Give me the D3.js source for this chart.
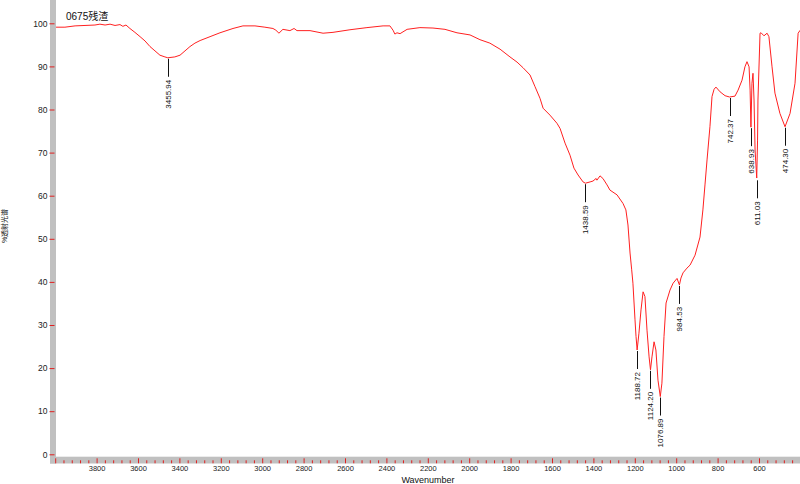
<!DOCTYPE html>
<html>
<head>
<meta charset="utf-8">
<script src="https://cdn.jsdelivr.net/npm/d3@7"></script>
<style>
  html, body { margin: 0; padding: 0; background: #fff; }
  svg { display: block; }
  text { font-family: "Liberation Sans", "Noto Sans CJK SC", sans-serif; }
</style>
</head>
<body>
<svg id="chart" width="800" height="484"></svg>
<script>
// ---- data ----
const title = "0675残渣";
const xTitle = "Wavenumber";
const yTitle = "%透射光谱";

const wavenumber = [3996,3953,3904,3856,3808,3784,3759,3735,3711,3687,3673,3658,3639,3615,3590,3566,3542,3518,3494,3470,3456,3422,3397,3373,3349,3325,3300,3252,3204,3141,3093,3035,2987,2948,2934,2919,2900,2866,2846,2832,2769,2706,2658,2576,2494,2416,2383,2368,2359,2349,2334,2300,2238,2175,2117,2059,1996,1948,1900,1851,1803,1769,1740,1706,1682,1658,1643,1610,1576,1561,1537,1513,1494,1474,1450,1438.6,1416,1402,1387,1383,1368,1354,1334,1320,1286,1257,1243,1233,1223,1215,1209,1199,1194,1188.7,1180,1170,1160,1151,1141,1131,1124.2,1117,1107,1098,1088,1076.9,1069,1059,1049,1030,1015,996,984.5,977,967,948,933,909,885,871,861,851,837,827,817,808,788,764,742.4,716,701,682,668,658,648,643,638.9,634,629,624,619,611.0,607,605,595,590,576,561,552,537,523,499,474.3,450,426,411,401];
const transmittance = [99.1,99.1,99.4,99.5,99.6,99.8,99.6,99.8,99.5,99.7,99.3,99.6,98.8,97.9,96.9,95.9,94.6,93.6,92.6,92.2,92.0,92.2,92.6,93.6,94.6,95.4,96.0,96.9,97.8,98.8,99.4,99.4,99.1,98.8,98.4,97.7,98.6,98.3,98.8,98.3,98.3,97.7,97.9,98.5,99.0,99.4,99.4,98.4,97.5,97.8,97.6,98.6,99.0,98.9,98.6,97.8,97.3,96.2,95.4,94.0,92.2,91.0,89.7,88.0,85.3,82.6,80.3,78.7,76.8,75.6,72.2,69.4,66.4,64.8,63.2,62.9,63.2,63.4,64.0,63.6,64.6,64.0,62.5,61.3,60.2,58.2,56.7,53.2,46.7,42.8,39.7,31.2,27.3,24.2,28.1,33.5,37.7,36.6,28.8,22.6,19.6,22.6,26.1,24.2,17.2,13.4,16.5,27.3,35.1,38.1,39.7,40.8,39.3,40.9,42.1,43.2,43.9,46.2,50.4,56.7,62.5,68.3,76.0,83.0,84.7,85.2,84.1,83.2,82.9,83.1,84.5,86.8,89.9,91.1,89.9,84.5,75.9,86.1,88.4,82.2,70.6,64.1,72.9,82.2,97.7,97.8,97.1,97.7,96.9,89.9,83.8,79.1,76.0,79.1,86.1,97.7,98.4];

const peakPositions = [3455.94, 1438.59, 1188.72, 1124.20, 1076.89, 984.53, 742.37, 638.93, 611.03, 474.30];
const peakValues = [92.0, 62.9, 24.2, 19.6, 13.4, 39.3, 82.9, 75.9, 63.8, 76.0];
const peakLabels = ["3455.94", "1438.59", "1188.72", "1124.20", "1076.89", "984.53", "742.37", "638.93", "611.03", "474.30"];

const yTickValues = [0, 10, 20, 30, 40, 50, 60, 70, 80, 90, 100];
const xMajorTicks = [3800, 3600, 3400, 3200, 3000, 2800, 2600, 2400, 2200, 2000, 1800, 1600, 1400, 1200, 1000, 800, 600];

// ---- drawing ----
const svg = d3.select("#chart");
const x = d3.scaleLinear().domain([4000, 400]).range([55.2, 800.4]);
const y = d3.scaleLinear().domain([0, 100]).range([454.3, 23.3]);

svg.append("rect").attr("width", 800).attr("height", 484).attr("fill", "#fff");

// curve
const data = wavenumber.map((w, i) => ({ w, t: transmittance[i] }));
svg.append("path")
  .datum(data)
  .attr("fill", "none")
  .attr("stroke", "#ff2020")
  .attr("stroke-width", 1)
  .attr("d", d3.line().x(d => x(d.w)).y(d => y(d.t)));

// gray frame bars
svg.append("rect").attr("x", 50).attr("y", 0).attr("width", 6).attr("height", 463.5).attr("fill", "#c0c0c0");
svg.append("rect").attr("x", 50).attr("y", 456.7).attr("width", 750).attr("height", 6.8).attr("fill", "#c0c0c0");

// y axis
const yAxis = svg.append("g")
  .attr("transform", "translate(54.5,0)")
  .call(d3.axisLeft(y).tickValues(yTickValues).tickSize(5).tickPadding(2).tickFormat(d3.format("d")));
yAxis.select(".domain").remove();
yAxis.selectAll(".tick line").attr("stroke", "#e02020");
yAxis.selectAll(".tick text").attr("font-size", 8.5).attr("fill", "#222")
  .attr("font-family", "Liberation Sans, sans-serif");

// x axis minor ticks
const minorVals = d3.range(400, 4001, 40).filter(v => v % 200 !== 0);
const xMinor = svg.append("g")
  .attr("transform", "translate(0,463.3)")
  .call(d3.axisBottom(x).tickValues(minorVals).tickSize(-3).tickFormat(""));
xMinor.select(".domain").remove();
xMinor.selectAll(".tick line").attr("stroke", "#e02020");

const xMajor = svg.append("g")
  .attr("transform", "translate(0,463.3)")
  .call(d3.axisBottom(x).tickValues(d3.range(400, 4001, 200)).tickSize(-5).tickPadding(2.4)
    .tickFormat(d => xMajorTicks.includes(d) ? d : ""));
xMajor.select(".domain").remove();
xMajor.selectAll(".tick line").attr("stroke", "#e02020");
xMajor.selectAll(".tick text").attr("font-size", 7.5).attr("fill", "#222")
  .attr("font-family", "Liberation Sans, sans-serif");

// peak annotations
peakPositions.forEach((p, i) => {
  const px = Math.round(x(p)) + 0.5;
  const py = y(peakValues[i]);
  svg.append("line")
    .attr("x1", px).attr("x2", px)
    .attr("y1", py + 1).attr("y2", py + 19)
    .attr("stroke", "#111").attr("stroke-width", 1);
  svg.append("text")
    .attr("transform", `translate(${px},${py + 22}) rotate(-90)`)
    .attr("text-anchor", "end")
    .attr("dy", "0.35em")
    .attr("font-size", 8)
    .attr("fill", "#111")
    .text(peakLabels[i]);
});

// titles
svg.append("text").attr("x", 66).attr("y", 19.6).attr("font-size", 10).attr("fill", "#111").text(title);
svg.append("text").attr("x", 428).attr("y", 482.5).attr("text-anchor", "middle")
  .attr("font-size", 9).attr("font-family", "Liberation Serif, serif").attr("fill", "#111").text(xTitle);
svg.append("text")
  .attr("transform", "translate(5,226) rotate(-90)")
  .attr("text-anchor", "middle").attr("dy", "0.35em")
  .attr("font-size", 7).attr("fill", "#111").text(yTitle);
</script>
</body>
</html>
